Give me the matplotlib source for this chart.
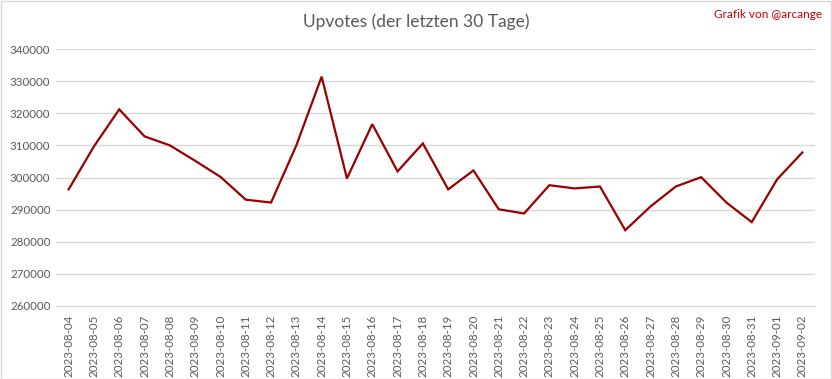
import matplotlib
matplotlib.use("Agg")
import matplotlib.pyplot as plt
from matplotlib.patches import Rectangle

# data
dates = [
    "2023-08-04", "2023-08-05", "2023-08-06", "2023-08-07", "2023-08-08",
    "2023-08-09", "2023-08-10", "2023-08-11", "2023-08-12", "2023-08-13",
    "2023-08-14", "2023-08-15", "2023-08-16", "2023-08-17", "2023-08-18",
    "2023-08-19", "2023-08-20", "2023-08-21", "2023-08-22", "2023-08-23",
    "2023-08-24", "2023-08-25", "2023-08-26", "2023-08-27", "2023-08-28",
    "2023-08-29", "2023-08-30", "2023-08-31", "2023-09-01", "2023-09-02",
]
upvotes = [
    296300, 309700, 321200, 312800, 310000,
    305200, 300200, 293100, 292200, 310000,
    331400, 299700, 316600, 301900, 310600,
    296300, 302200, 290100, 288800, 297600,
    296600, 297200, 283600, 291000, 297200,
    300100, 292200, 286100, 299400, 307800,
]
y_ticks = [260000, 270000, 280000, 290000, 300000, 310000, 320000, 330000, 340000]

plt.rcParams['font.family'] = ['Lato', 'DejaVu Sans']
text_grey = '#595959'

fig = plt.figure(figsize=(8.32, 3.79), dpi=100)
W, H = 832, 379
ax = fig.add_axes([56 / W, 1 - 306 / H, (815 - 56) / W, (306 - 49) / H])

x = list(range(len(dates)))
ax.plot(x, upvotes, color='#990000', linewidth=1.6, solid_joinstyle='miter')

ax.set_xlim(-0.5, len(dates) - 0.5)
ax.set_ylim(y_ticks[0], y_ticks[-1])
ax.set_yticks(y_ticks)
ax.set_yticklabels([str(v) for v in y_ticks], color=text_grey, fontsize=8.3)
ax.set_xticks(x)
ax.set_xticklabels(dates, rotation=90, color=text_grey, fontsize=8.3)
ax.tick_params(axis='both', length=0, pad=4)
ax.tick_params(axis='x', pad=6)

ax.grid(axis='y', color='#d9d9d9', linewidth=1)
ax.set_axisbelow(True)
for s in ['top', 'right', 'left']:
    ax.spines[s].set_visible(False)
ax.spines['bottom'].set_color('#d9d9d9')

fig.text(0.5, 1 - 22 / H, "Upvotes (der letzten 30 Tage)", ha='center', va='center',
         fontsize=12.5, color=text_grey)
fig.text(1 - 10 / W, 1 - 15 / H, "Grafik von @arcange", ha='right', va='center',
         fontsize=8.5, color='#c00000')

# light frame around the whole chart
fig.patches.append(Rectangle((0.5 / W, 0.5 / H), 1 - 1.5 / W, 1 - 1.5 / H,
                             transform=fig.transFigure, fill=False,
                             edgecolor='#d9d9d9', linewidth=1))

fig.savefig("out.png", dpi=100)
